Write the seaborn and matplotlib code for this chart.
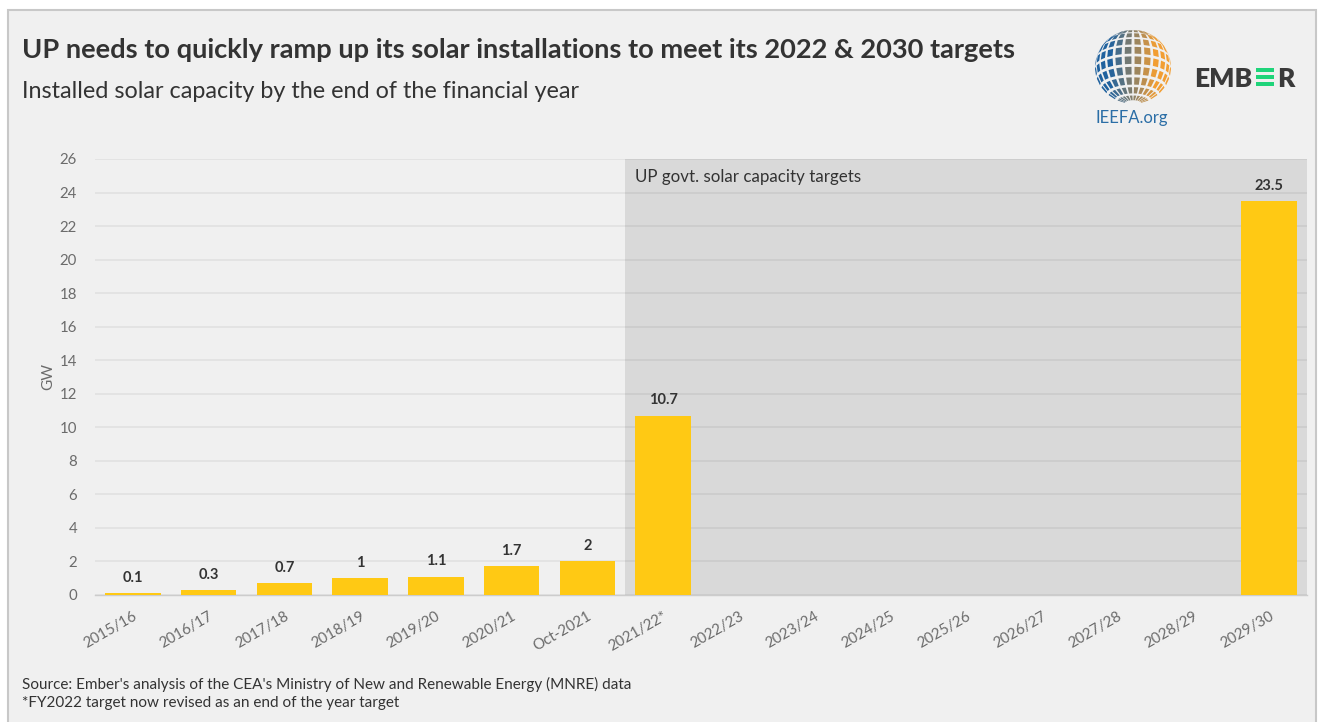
import numpy as np
import pandas as pd
import matplotlib
matplotlib.use("Agg")
import matplotlib.pyplot as plt
from matplotlib.patches import Rectangle, Polygon
import seaborn as sns

# Installed solar capacity (GW) by financial year, with UP government targets
years = ["2015/16", "2016/17", "2017/18", "2018/19", "2019/20", "2020/21",
         "Oct-2021", "2021/22*", "2022/23", "2023/24", "2024/25", "2025/26",
         "2026/27", "2027/28", "2028/29", "2029/30"]
capacity = [0.1, 0.3, 0.7, 1, 1.1, 1.7, 2, 10.7, None, None, None, None,
            None, None, None, 23.5]
target_start = "2021/22*"
target_end = "2029/30"
yticks = list(range(0, 27, 2))

df = pd.DataFrame({"year": years, "gw": capacity}).dropna()

sns.set_theme(style="white")
plt.rcParams["font.family"] = ["Lato", "DejaVu Sans"]

BG = "#f0f0f0"
BAR = "#ffc914"
TXT = "#333333"
TICK = "#6b6b6b"

fig = plt.figure(figsize=(13.18, 7.22), dpi=100)
fig.patch.set_facecolor("white")

W, H = 1318, 722
def fx(px):
    return px / W
def fy(py):
    return 1 - py / H

# framed card behind everything
card = Rectangle((fx(8), fy(740)), fx(1308), fy(10) - fy(740),
                 transform=fig.transFigure, facecolor=BG,
                 edgecolor="#c8c8c8", lw=1.5, zorder=-10)
fig.add_artist(card)

ax = fig.add_axes([fx(95), fy(595), fx(1307 - 95), fy(159) - fy(595)])
ax.set_facecolor("none")

sns.barplot(data=df, x="year", y="gw", order=years, color=BAR,
            width=0.73, saturation=1, ax=ax, zorder=3,
            edgecolor="none", linewidth=0)

i0 = years.index(target_start)
i1 = years.index(target_end)
ax.axvspan(i0 - 0.5, i1 + 0.5, ymin=0, ymax=1, color="#d9d9d9", zorder=0, lw=0)

ax.set_xlim(-0.5, len(years) - 0.5)
ax.set_ylim(0, 26)
ax.set_yticks(yticks)
ax.yaxis.grid(True, color="black", alpha=0.06, lw=1.2)
for gl in ax.get_ygridlines():
    gl.set_zorder(1)

for s in ["top", "right", "left"]:
    ax.spines[s].set_visible(False)
ax.spines["bottom"].set_color("#cccccc")
ax.spines["bottom"].set_linewidth(1.0)
ax.spines["bottom"].set_zorder(2)

ax.tick_params(axis="x", length=6, width=1, color="#cccccc", pad=4,
               labelsize=10.8, labelcolor=TICK)
ax.tick_params(axis="y", length=0, pad=13, labelsize=10.8, labelcolor=TICK)
plt.setp(ax.get_xticklabels(), rotation=30, ha="right", rotation_mode="anchor")

ax.set_xlabel("")
ax.set_ylabel("GW", color=TICK, fontsize=11, labelpad=3)

for cont in ax.containers:
    ax.bar_label(cont, fmt="%g", padding=6, fontsize=10.5, fontweight="bold",
                 color=TXT)

ax.text(i0 - 0.37, 24.9, "UP govt. solar capacity targets", fontsize=12.2,
        color=TXT, va="center", ha="left", zorder=5)

# titles and notes
fig.text(fx(22), fy(50), "UP needs to quickly ramp up its solar installations to meet its 2022 & 2030 targets",
         fontsize=19.6, fontweight="bold", color=TXT, va="center", ha="left")
fig.text(fx(22), fy(91), "Installed solar capacity by the end of the financial year",
         fontsize=16.8, color=TXT, va="center", ha="left")
fig.text(fx(22), fy(684), "Source: Ember's analysis of the CEA's Ministry of New and Renewable Energy (MNRE) data",
         fontsize=11, color=TXT, va="center", ha="left")
fig.text(fx(22), fy(703), "*FY2022 target now revised as an end of the year target",
         fontsize=11, color=TXT, va="center", ha="left")

# EMBER wordmark with green E
fig.text(fx(1194), fy(79), "EMB", fontsize=19, fontweight="heavy", color="#3a3a3a",
         va="center", ha="left")
fig.text(fx(1277), fy(79), "R", fontsize=19, fontweight="heavy", color="#3a3a3a",
         va="center", ha="left")
for k in range(3):
    fig.add_artist(Rectangle((fx(1256), fy(71.5 + k * 7.2)), fx(18), fy(0) - fy(3.8),
                             transform=fig.transFigure, color="#1fd47a", lw=0,
                             zorder=5))

# IEEFA globe: tiles on an orthographic sphere
gax = fig.add_axes([fx(1093), fy(108), fx(80), fy(28) - fy(108)])
gax.set_xlim(-1.05, 1.05)
gax.set_ylim(-1.05, 1.05)
gax.set_aspect("equal")
gax.axis("off")
lat_edges = np.linspace(-80, 80, 11)
lon_edges = np.linspace(-90, 90, 13)
blue = np.array([0.12, 0.38, 0.62])
orange = np.array([0.95, 0.62, 0.2])
tilt = np.radians(-20)
for a in range(len(lat_edges) - 1):
    for b in range(len(lon_edges) - 1):
        la0, la1 = lat_edges[a] + 2.2, lat_edges[a + 1] - 2.2
        lo0, lo1 = lon_edges[b] + 2.4, lon_edges[b + 1] - 2.4
        pts = []
        for la, lo in [(la0, lo0), (la0, lo1), (la1, lo1), (la1, lo0)]:
            phi, lam = np.radians(la), np.radians(lo)
            x = np.cos(phi) * np.sin(lam)
            y = np.sin(phi)
            z = np.cos(phi) * np.cos(lam)
            pts.append((x, y * np.cos(tilt) - z * np.sin(tilt)))
        mix = np.clip((np.mean([p[0] for p in pts]) + 0.6) / 1.2, 0, 1)
        col = blue * (1 - mix) + orange * mix
        gax.add_patch(Polygon(pts, closed=True, color=col, lw=0))
fig.text(fx(1132), fy(118), "IEEFA.org", fontsize=12, color="#2b6ea6",
         va="center", ha="center")

fig.savefig("out.png", dpi=100, facecolor=fig.get_facecolor())
